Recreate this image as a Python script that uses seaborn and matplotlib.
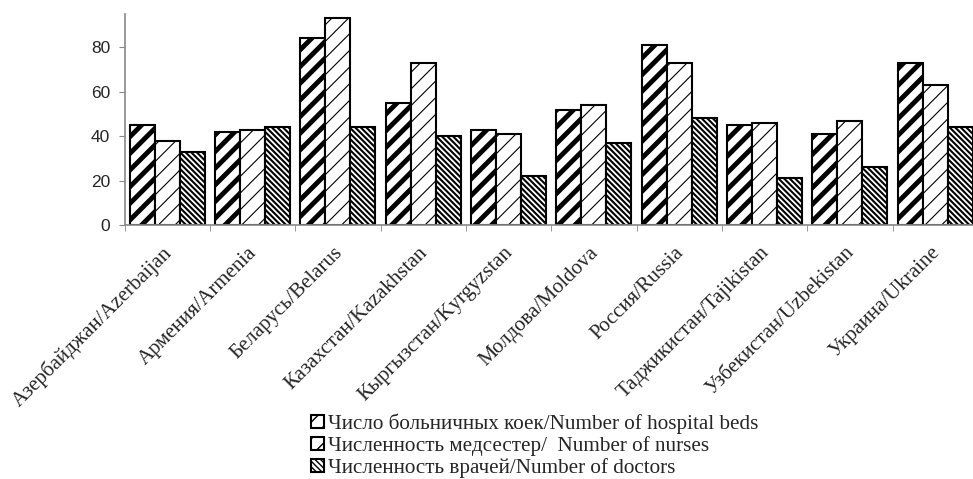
import pandas as pd
import matplotlib.pyplot as plt
import matplotlib.transforms as mtransforms
import seaborn as sns

# Данные по странам
countries = ['Азербайджан/Azerbaijan', 'Армения/Armenia', 'Беларусь/Belarus',
             'Казахстан/Kazakhstan', 'Кыргызстан/Kyrgyzstan', 'Молдова/Moldova',
             'Россия/Russia', 'Таджикистан/Tajikistan', 'Узбекистан/Uzbekistan',
             'Украина/Ukraine']
beds = [45, 42, 84, 55, 43, 52, 81, 45, 41, 73]
nurses = [38, 43, 93, 73, 41, 54, 73, 46, 47, 63]
doctors = [33, 44, 44, 40, 22, 37, 48, 21, 26, 44]
series = ['Число больничных коек/Number of hospital beds',
          'Численность медсестер/  Number of nurses',
          'Численность врачей/Number of doctors']
y_ticks = [0, 20, 40, 60, 80]


def main():
    df = pd.DataFrame({
        'Страна': countries * 3,
        'Значение': beds + nurses + doctors,
        'Показатель': [series[0]] * 10 + [series[1]] * 10 + [series[2]] * 10,
    })

    sns.set_style('white')
    plt.rcParams['font.family'] = ['Liberation Serif', 'DejaVu Serif']

    fig = plt.figure(figsize=(9.73, 4.79), dpi=100)
    ax = fig.add_axes([0.128, 0.530, 0.877, 0.441])

    sns.barplot(data=df, x='Страна', y='Значение', hue='Показатель',
                palette=['white'] * 3, edgecolor='black', linewidth=1.5,
                width=0.88, gap=0, ax=ax, legend=False)

    # Штриховки для каждой серии
    hatches = ['//', '//', '\\' * 6]
    hatch_lw = [3.5, 0.8, 1.5]
    for cont, h, lw in zip(ax.containers, hatches, hatch_lw):
        for bar in cont:
            bar.set_hatch(h)
            if hasattr(bar, 'set_hatch_linewidth'):
                bar.set_hatch_linewidth(lw)

    ax.set_ylim(0, 95)
    ax.set_xlim(-0.5, len(countries) - 0.5)
    ax.set_yticks(y_ticks)
    ax.set_yticklabels([str(v) for v in y_ticks], family='Liberation Sans', fontsize=12.5)
    ax.tick_params(axis='y', length=4.3, color='#888888', left=True, pad=6)

    # Деления по оси X между категориями
    ax.set_xticks(range(len(countries)))
    ax.set_xticklabels(countries, rotation=45, ha='right', rotation_mode='anchor', fontsize=15)
    ax.tick_params(axis='x', length=0, pad=13)
    shift = mtransforms.ScaledTranslation(-0.05, 0, fig.dpi_scale_trans)
    for lbl in ax.get_xticklabels():
        lbl.set_transform(lbl.get_transform() + shift)
    ax.set_xticks([i - 0.5 for i in range(len(countries) + 1)], minor=True)
    ax.tick_params(axis='x', which='minor', length=4.3, color='#888888', bottom=True)

    ax.set_xlabel('')
    ax.set_ylabel('')
    for side in ['top', 'right']:
        ax.spines[side].set_visible(False)
    for side in ['left', 'bottom']:
        ax.spines[side].set_color('#888888')
        ax.spines[side].set_linewidth(1.2)

    handles = [cont.patches[0] for cont in ax.containers]
    fig.legend(handles, series, loc='upper left', bbox_to_anchor=(0.320, 0.137),
               frameon=False, fontsize=15.2, handlelength=0.6, handleheight=0.6,
               handletextpad=0.2, labelspacing=0.1, borderpad=0, borderaxespad=0)

    fig.savefig('out.png', dpi=100)


if __name__ == "__main__":
    main()
